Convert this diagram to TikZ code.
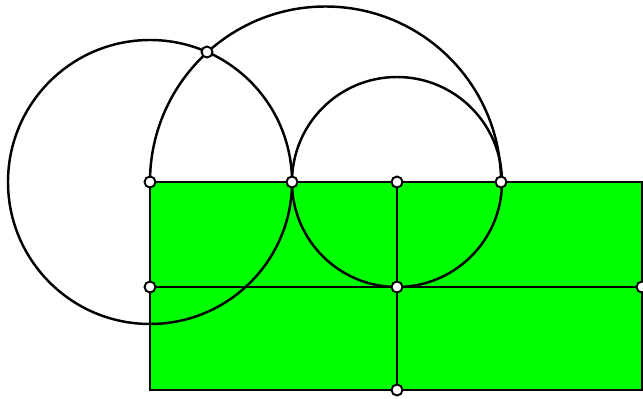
\documentclass[tikz,border=0pt]{standalone}
\usepackage{tikz}
\usetikzlibrary{calc}
\definecolor{cGRN}{HTML}{00FF00}

\begin{document}
\begin{tikzpicture}[x=0.02cm, y=0.02cm, line width=1.4pt,
  dot/.style={circle, draw=black, fill=white, inner sep=0pt, minimum size=0.22cm, line width=1.1pt}]
\useasboundingbox (0,0) rectangle (643,399);
% rectangle
\draw[fill=cGRN] (150,9) rectangle (642,217);
\coordinate (tl) at (150,217);
\coordinate (tm) at (292,217);
\coordinate (tc) at (397,217);
\coordinate (tr) at (501,217);
\coordinate (ml) at (150,112);
\coordinate (mc) at (397,112);
\coordinate (mr) at (642,112);
\coordinate (bc) at (397,9);
\coordinate (top) at (207,347);
% circles
\draw (tl) circle[radius=142];
\draw (tc) circle[radius=105];
\draw (tr) arc[start angle=0, end angle=180, radius=175.5];
% lines
\draw (ml) -- (mr);
\draw (tc) -- (bc);
% points
\foreach \p in {tl,tm,tc,tr,ml,mc,mr,bc,top}
  \node[dot] (d\p) at (\p) {};
\end{tikzpicture}
\end{document}
